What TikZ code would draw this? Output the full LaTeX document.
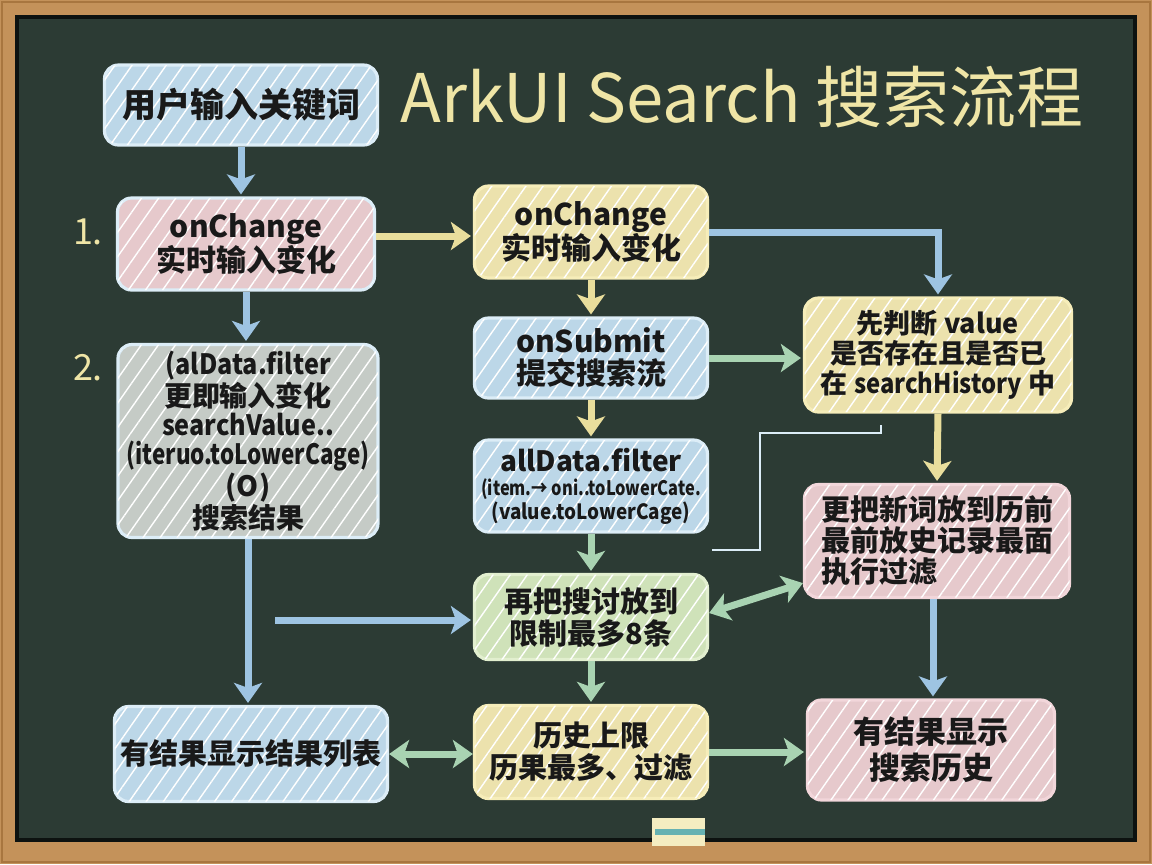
\documentclass[tikz,border=0pt]{standalone}
\usepackage{fontspec}
\setmainfont{Noto Sans CJK SC}
\usetikzlibrary{arrows.meta,patterns.meta}
\definecolor{wood}{HTML}{C4925A}
\definecolor{woodd}{HTML}{A8763F}
\definecolor{board}{HTML}{2C3B34}
\definecolor{chalky}{HTML}{EFE5A6}
\definecolor{fblue}{HTML}{BCD7E8}
\definecolor{bblue}{HTML}{DCEDF7}
\definecolor{fpink}{HTML}{E6C9CC}
\definecolor{bpink}{HTML}{F2D6DA}
\definecolor{fyel}{HTML}{ECE2AD}
\definecolor{byel}{HTML}{F6EDB9}
\definecolor{fgreen}{HTML}{CFE2B9}
\definecolor{bgreen}{HTML}{E2EFCF}
\definecolor{fgray}{HTML}{C5CBC6}
\definecolor{ablue}{HTML}{9EC4E2}
\definecolor{ayel}{HTML}{E9DE9C}
\definecolor{agreen}{HTML}{A9D3B2}
\newcommand{\fs}[2]{\fontsize{#1}{#2}\selectfont}
\newcommand{\cond}[2][0.84]{\scalebox{#1}[1]{#2}}
\tikzset{
  box/.style={rounded corners=7pt, draw, line width=1.6pt, align=center, inner sep=0pt, text=black!90,
     postaction={pattern={Lines[angle=55,distance=7pt,line width=0.7pt]}, pattern color=white, fill opacity=0.13}},
  bluebox/.style={box, fill=fblue, draw=bblue},
  pinkbox/.style={box, fill=fpink, draw=bblue},
  pink2box/.style={box, fill=fpink, draw=bpink},
  yelbox/.style={box, fill=fyel, draw=byel},
  greenbox/.style={box, fill=fgreen, draw=bgreen},
  graybox/.style={box, fill=fgray, draw=bblue},
  arr/.style={line width=3.5pt, -{Stealth[length=10pt,width=14pt,inset=2.5pt]}, shorten >=1pt},
  darr/.style={line width=3.5pt, {Stealth[length=10pt,width=14pt,inset=2.5pt]}-{Stealth[length=10pt,width=14pt,inset=2.5pt]}},
  barr/.style={arr, draw=ablue},
  yarr/.style={arr, draw=ayel},
  garr/.style={arr, draw=agreen},
  steplabel/.style={text=chalky, font=\fs{18}{20}},
}
\begin{document}
\begin{tikzpicture}[x=0.5pt,y=-0.5pt]
% frame
\fill[wood] (0,0) rectangle (1152,864);
\draw[woodd, line width=1pt] (2,2) rectangle (1150,862);
\fill[board] (17,17) rectangle (1135,840);
\draw[black!70!board, line width=2pt] (17,17) rectangle (1135,840);
% eraser
\fill[chalky!70!white] (652,818) rectangle (705,846);
\fill[teal!60!white] (655,829) rectangle (705,835);
% title
\node[text=chalky, font=\fs{33.5}{36}] (title) at (742,97) {ArkUI Search 搜索流程};
% step labels
\node[steplabel] (s1) at (88,232) {1.};
\node[steplabel] (s2) at (88,368) {2.};
% left column
\node[bluebox, minimum width=136.5pt, minimum height=40pt, font=\fs{17}{19}\bfseries] (n0) at (241,105) {用户输入关键词};
\node[pinkbox, minimum width=128.5pt, minimum height=46pt, font=\fs{15}{17}\bfseries] (n1) at (246,244) {onChange\\实时输入变化};
\node[graybox, minimum width=130pt, minimum height=96.5pt, font=\fs{14}{14.6}\bfseries] (n2) at (248,441) {\cond[0.9]{(alData.filter}\\更即输入变化\\\cond[0.9]{searchValue..}\\\cond[0.8]{(iteruo.toLowerCage)}\\(O)\\搜索结果};
\node[bluebox, minimum width=136.5pt, minimum height=47.5pt, font=\fs{14.5}{16}\bfseries] (l3) at (251,754) {有结果显示结果列表};
% middle column
\node[yelbox, minimum width=116.5pt, minimum height=46pt, font=\fs{15}{17}\bfseries] (m1) at (591,232) {onChange\\实时输入变化};
\node[bluebox, minimum width=116.5pt, minimum height=40pt, font=\fs{15}{16}\bfseries] (m2) at (591,358) {onSubmit\\提交搜索㳘};
\node[bluebox, minimum width=116.5pt, minimum height=46pt, font=\fs{10}{12}\bfseries] (m3) at (591,486) {\fs{14}{16}allData.filter\\\fs{10}{12}\cond[0.82]{(item.→ oni..toLowerCate.}\\\fs{10.5}{12}\cond[0.9]{(value.toLowerCage)}};
\node[greenbox, minimum width=116.5pt, minimum height=42.5pt, font=\fs{14.5}{16}\bfseries] (m4) at (591,617) {再把搜讨放到\\限制最多8条};
\node[yelbox, minimum width=116.5pt, minimum height=46.5pt, font=\fs{14.5}{16}\bfseries] (m5) at (591,752) {历史上限\\历果最多、过滤};
% right column
\node[yelbox, minimum width=133.5pt, minimum height=57pt, font=\fs{13.5}{15}\bfseries] (r1) at (938,355) {先判断 value\\是否存在且是否已\\在 \cond[0.88]{searchHistory} 中};
\node[pink2box, minimum width=132.5pt, minimum height=56.5pt, align=left, font=\fs{14.5}{15.5}\bfseries] (r2) at (937,541) {更把新词放到历前\\最前放史记录最面\\执行过滤\hspace*{58pt}};
\node[pink2box, minimum width=123.5pt, minimum height=50pt, font=\fs{15.5}{18}\bfseries] (r3) at (931,750) {有结果显示\\搜索历史};
% helper coordinates
\coordinate (c1) at (275,620);
\coordinate (t1) at (881,425);
\coordinate (t2) at (881,433);
\coordinate (t3) at (760,433);
\coordinate (t4) at (760,550);
\coordinate (t5) at (712,550);
% connectors
\draw[barr] (n0.south) -- (n0.south |- n1.north);
\draw[barr] (n1.south) -- (n1.south |- n2.north);
\draw[yarr] ([yshift=4pt]n1.east) -- ([yshift=4pt]n1.east -| m1.west);
\draw[barr] (m1.east) -| (r1.north);
\draw[yarr] (m1.south) -- (m2.north);
\draw[garr] (m2.east) -- (m2.east -| r1.west);
\draw[yarr] (m2.south) -- (m3.north);
\draw[garr] (m3.south) -- (m4.north);
\draw[yarr] (r1.south) -- (r2.north);
\draw[draw=bblue, line width=1.3pt] (t1) -- (t2) -- (t3) -- (t4) -- (t5);
\draw[darr, draw=agreen] ([yshift=2pt]m4.east) -- ([yshift=8pt]r2.south west);
\draw[barr] (c1) -- (c1 -| m4.west);
\draw[barr] (n2.south) -- (n2.south |- l3.north);
\draw[garr] (m4.south) -- (m5.north);
\draw[darr, draw=agreen] (l3.east) -- (l3.east -| m5.west);
\draw[garr] (m5.east) -- (m5.east -| r3.west);
\draw[barr] ([xshift=-2pt]r2.south) -- ([xshift=-2pt]r2.south |- r3.north);
\end{tikzpicture}
\end{document}
